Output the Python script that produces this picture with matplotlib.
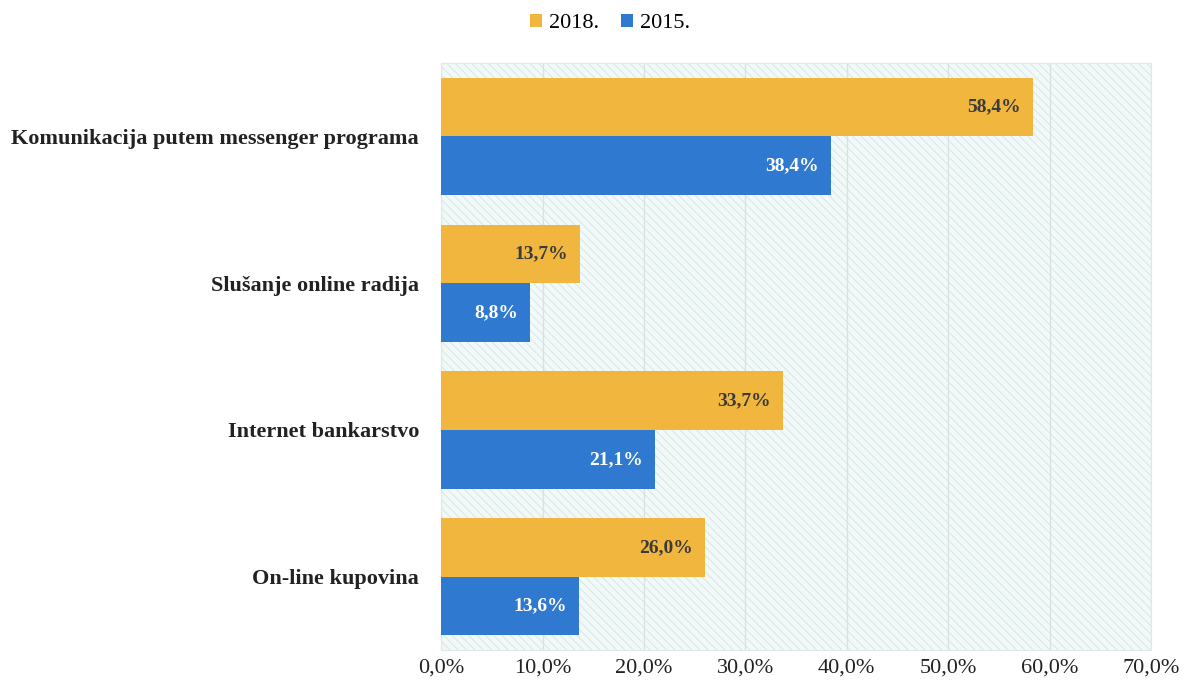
import numpy as np
import matplotlib.pyplot as plt
from matplotlib.patches import Rectangle

categories = ['Komunikacija putem messenger programa', 'Slušanje online radija',
              'Internet bankarstvo', 'On-line kupovina']
vals_2018 = [58.4, 13.7, 33.7, 26.0]
vals_2015 = [38.4, 8.8, 21.1, 13.6]
xticks = [0, 10, 20, 30, 40, 50, 60, 70]

c2018 = '#F0B63E'
c2015 = '#2F79D0'

plt.rcParams['font.family'] = ['Liberation Serif', 'DejaVu Serif']
plt.rcParams['hatch.linewidth'] = 0.6
plt.rcParams['hatch.color'] = '#d3e0e0'

fig = plt.figure(figsize=(11.86, 6.86), dpi=100)
ax = fig.add_axes([0.372, 0.0525, 0.5985, 0.8555])

y = np.arange(len(categories))
h = 0.4
ax.barh(y - h / 2, vals_2018, height=h, color=c2018, label='2018.', zorder=3)
ax.barh(y + h / 2, vals_2015, height=h, color=c2015, label='2015.', zorder=3)

for i in range(len(categories)):
    ax.text(vals_2018[i] - 1.2, y[i] - h / 2, f'{vals_2018[i]:.1f}%'.replace('.', ','),
            ha='right', va='center', fontsize=14, fontweight='bold', color='#3a3a3a', zorder=4)
    ax.text(vals_2015[i] - 1.2, y[i] + h / 2, f'{vals_2015[i]:.1f}%'.replace('.', ','),
            ha='right', va='center', fontsize=14, fontweight='bold', color='white', zorder=4)

ax.set_xlim(0, 70)
ax.set_ylim(len(categories) - 0.5, -0.5)
ax.set_xticks(xticks)
ax.set_xticklabels([f'{t:.1f}%'.replace('.', ',') for t in xticks], fontsize=16)
ax.set_yticks(y)
ax.set_yticklabels(categories, fontsize=16, fontweight='bold')
ax.tick_params(length=0, colors='#222222')
ax.tick_params(axis='x', pad=6)
ax.tick_params(axis='y', pad=16)

ax.set_facecolor('#F1F9F9')
ax.add_patch(Rectangle((0, 0), 1, 1, transform=ax.transAxes, facecolor='none',
                       hatch='\\\\\\\\', edgecolor='#d6e2e2', linewidth=0, zorder=0))
ax.grid(axis='x', color='#dbe1e1', linewidth=1, zorder=1)
for s in ax.spines.values():
    s.set_color('#e0e8e8')

ax.legend(loc='upper center', bbox_to_anchor=(0.238, 1.118), ncol=2,
          frameon=False, fontsize=16, handlelength=0.55, handleheight=0.55,
          handletextpad=0.3, columnspacing=1.0)

fig.savefig('out.png', dpi=100)
